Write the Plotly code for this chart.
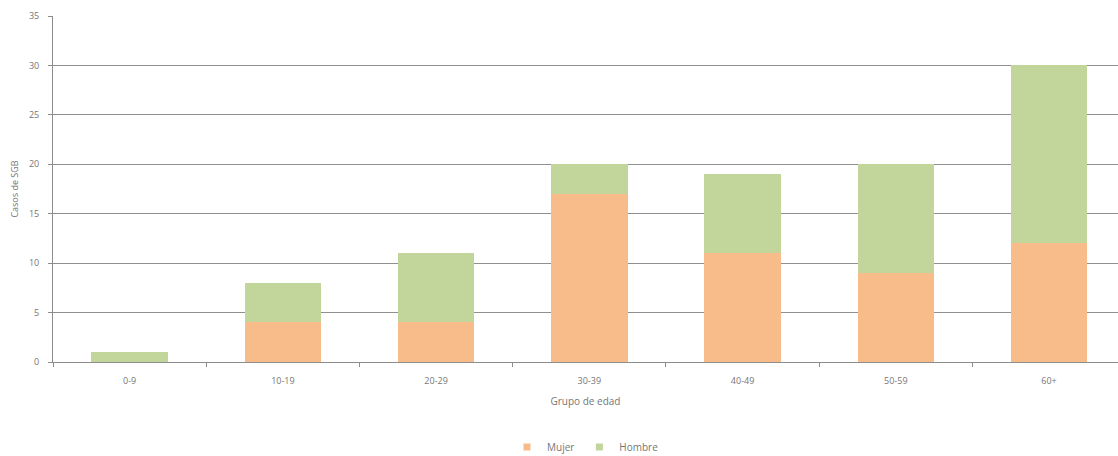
import plotly.graph_objects as go

grupos = ["0-9", "10-19", "20-29", "30-39", "40-49", "50-59", "60+"]
mujer = [0, 4, 4, 17, 11, 9, 12]
hombre = [1, 4, 7, 3, 8, 11, 18]

color_mujer = "#F8BC8A"
color_hombre = "#C2D69B"
texto = "#767676"
fuente = "Open Sans, Calibri, sans-serif"

fig = go.Figure()
fig.add_trace(go.Bar(x=grupos, y=mujer, name="Mujer", marker_color=color_mujer,
                     marker_line_width=0, showlegend=False, legendgroup="m"))
fig.add_trace(go.Bar(x=grupos, y=hombre, name="Hombre", marker_color=color_hombre,
                     marker_line_width=0, showlegend=False, legendgroup="h"))

# small square legend keys
for nombre, color, grupo in [("Mujer", color_mujer, "m"), ("Hombre", color_hombre, "h")]:
    fig.add_trace(go.Scatter(x=[None], y=[None], mode="markers", name=nombre,
                             legendgroup=grupo,
                             marker=dict(symbol="square", size=7, color=color)))

fig.update_layout(
    barmode="stack",
    bargap=0.5,
    width=1118,
    height=456,
    margin=dict(l=53, r=0, t=16, b=94),
    plot_bgcolor="white",
    paper_bgcolor="white",
    font=dict(family=fuente, size=9, color=texto),
    showlegend=True,
    legend=dict(orientation="h", x=0.5, xanchor="center",
                yref="container", y=0.02, yanchor="middle",
                font=dict(size=10, color=texto), itemwidth=30,
                tracegroupgap=0, traceorder="normal"),
)

fig.update_xaxes(
    range=[-0.5, 6.45],
    automargin=False,
    showline=True, linecolor="#8c8c8c", linewidth=1,
    ticks="outside", tickson="boundaries", ticklen=4, tickcolor="#8c8c8c",
    ticklabelstandoff=10,
    showgrid=False,
    tickfont=dict(size=9, color=texto),
    title=dict(text="Grupo de edad", font=dict(size=10, color=texto), standoff=12),
)
fig.update_yaxes(
    range=[0, 35], dtick=5,
    automargin=False,
    showline=True, linecolor="#8c8c8c", linewidth=1,
    ticks="outside", ticklen=4, tickcolor="#8c8c8c",
    ticklabelstandoff=7,
    showgrid=True, gridcolor="#8f8f8f", gridwidth=1,
    zeroline=False,
    tickfont=dict(size=9, color=texto),
    title=dict(text="Casos de SGB", font=dict(size=9, color=texto), standoff=8),
)

fig.write_html("out.html")
